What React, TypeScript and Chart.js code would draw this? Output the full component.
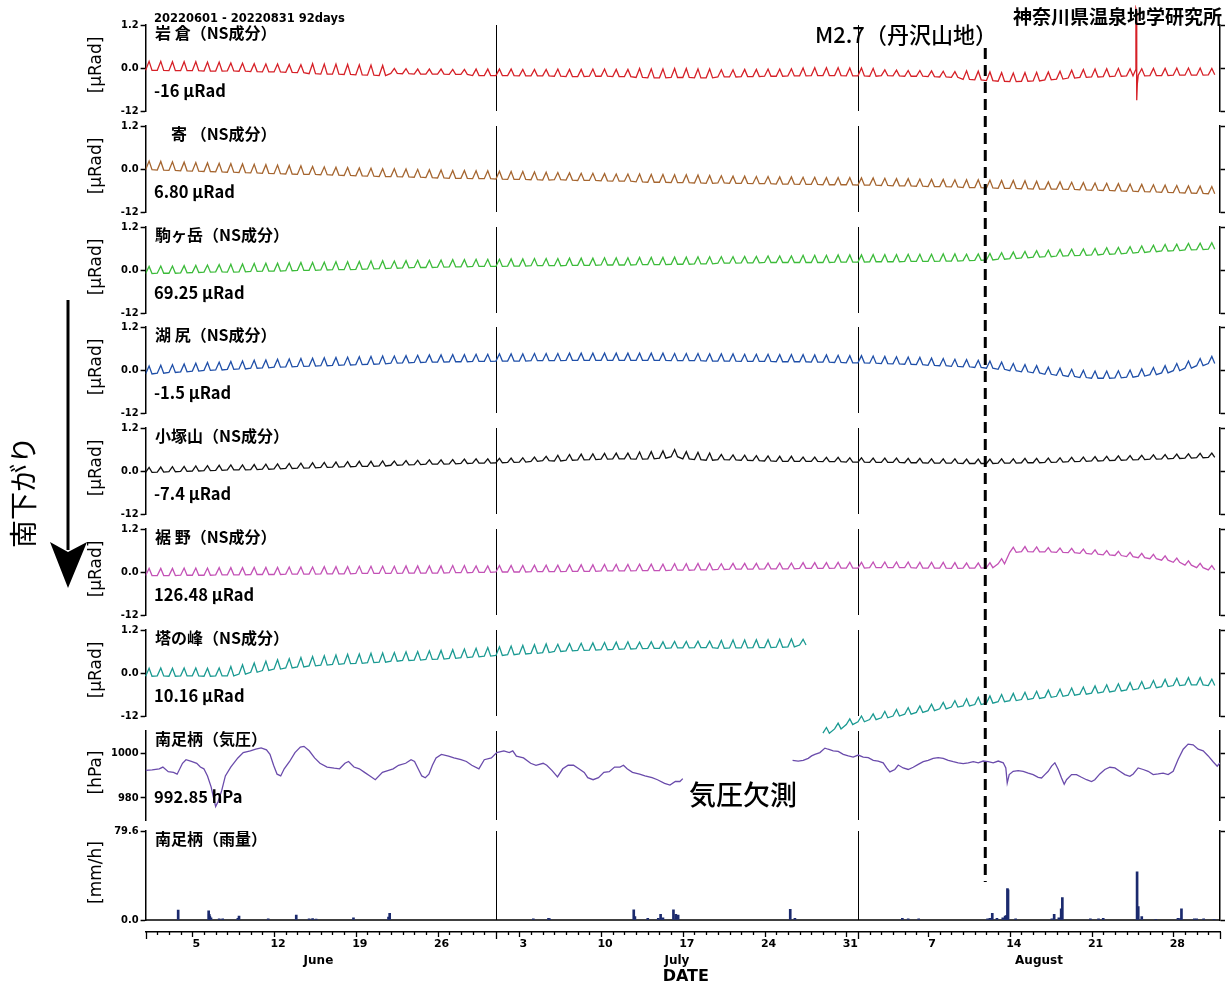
import React, { useEffect, useRef } from 'react';
import { Chart, registerables } from 'chart.js';

Chart.register(...registerables);

// ---------------- axis values ----------------
const DAY_MIN = 0;
const DAY_MAX = 92;
const X_TICK_DAYS = [4, 11, 18, 25, 32, 39, 46, 53, 60, 67, 74, 81, 88];
const X_TICK_LABELS = ['5', '12', '19', '26', '3', '10', '17', '24', '31', '7', '14', '21', '28'];
const MONTH_START_DAYS = [30, 61];
const MONTH_NAMES = ['June', 'July', 'August'];
const MONTH_LABEL_DAYS = [14.8, 45.5, 76.5];
const EQ_DAY = 71.9;

const TILT_TICKS = [-1.2, 0, 1.2];
const TILT_TICK_LABELS = ['-12', '0.0', '1.2'];
const P_TICKS = [980, 1000];
const P_TICK_LABELS = ['980', '1000'];
const R_TICKS = [0, 79.6];
const R_TICK_LABELS = ['0.0', '79.6'];

// ---------------- tilt series: daily level (μRad) and weekly tidal swing ----------------
const IWAKURA_LEVEL = [
  0.06, 0.06, 0.05, 0.05, 0.05, 0.04, 0.04,
  0.03, 0.02, 0.01, 0.0, 0.0, -0.01, -0.02,
  -0.02, -0.03, -0.03, -0.04, -0.05, -0.06, -0.07,
  -0.08, -0.09, -0.1, -0.1, -0.1, -0.11, -0.11,
  -0.12, -0.12, -0.12, -0.12, -0.13, -0.13, -0.13,
  -0.13, -0.14, -0.14, -0.13, -0.13, -0.14, -0.14,
  -0.14, -0.15, -0.15, -0.14, -0.14, -0.15, -0.15,
  -0.15, -0.15, -0.14, -0.14, -0.13, -0.13, -0.12,
  -0.11, -0.1, -0.1, -0.1, -0.11, -0.11, -0.12,
  -0.13, -0.14, -0.15, -0.15, -0.16, -0.17, -0.18,
  -0.2, -0.21, -0.23, -0.25, -0.26, -0.25, -0.24,
  -0.22, -0.2, -0.17, -0.15, -0.14, -0.13, -0.12,
  -0.12, -0.12, -0.11, -0.11, -0.1, -0.1, -0.1, -0.1,
];
const IWAKURA_AMP = [0.25, 0.22, 0.28, 0.14, 0.18, 0.2, 0.25, 0.2, 0.22, 0.16, 0.24, 0.22, 0.2, 0.18];
const IWAKURA_SPIKE_DAYS = [84.78, 84.8, 84.84, 84.87, 84.92, 85.0];
const IWAKURA_SPIKE_VALS = [-0.05, 1.65, 1.6, -0.9, -0.45, -0.2];

const YADORIKI_LEVEL = [
  0.1, 0.09, 0.08, 0.07, 0.06, 0.05, 0.04,
  0.03, 0.02, 0.01, 0.0, -0.01, -0.02, -0.03,
  -0.04, -0.05, -0.06, -0.07, -0.08, -0.09, -0.1,
  -0.1, -0.11, -0.12, -0.13, -0.14, -0.15, -0.15,
  -0.16, -0.16, -0.17, -0.18, -0.18, -0.19, -0.2,
  -0.2, -0.21, -0.22, -0.22, -0.23, -0.24, -0.24,
  -0.25, -0.26, -0.26, -0.27, -0.27, -0.28, -0.29,
  -0.29, -0.3, -0.3, -0.31, -0.31, -0.32, -0.32,
  -0.33, -0.33, -0.34, -0.34, -0.34, -0.35, -0.35,
  -0.36, -0.37, -0.37, -0.38, -0.39, -0.39, -0.4,
  -0.41, -0.41, -0.42, -0.43, -0.43, -0.44, -0.45,
  -0.46, -0.46, -0.47, -0.48, -0.49, -0.5, -0.51,
  -0.52, -0.53, -0.54, -0.55, -0.56, -0.57, -0.58, -0.59,
];
const YADORIKI_AMP = [0.24, 0.24, 0.22, 0.22, 0.22, 0.2, 0.22, 0.2, 0.2, 0.2, 0.22, 0.2, 0.2, 0.2];

const KOMA_LEVEL = [
  0.0, 0.01, 0.01, 0.02, 0.03, 0.04, 0.05,
  0.05, 0.06, 0.07, 0.08, 0.08, 0.09, 0.1,
  0.1, 0.11, 0.12, 0.12, 0.13, 0.14, 0.15,
  0.15, 0.16, 0.17, 0.17, 0.18, 0.19, 0.19,
  0.2, 0.2, 0.2, 0.21, 0.21, 0.22, 0.22,
  0.22, 0.23, 0.23, 0.23, 0.24, 0.24, 0.24,
  0.25, 0.25, 0.25, 0.26, 0.26, 0.27, 0.27,
  0.28, 0.28, 0.29, 0.29, 0.3, 0.3, 0.3,
  0.31, 0.31, 0.31, 0.32, 0.32, 0.32, 0.33,
  0.33, 0.33, 0.34, 0.34, 0.34, 0.35, 0.35,
  0.35, 0.36, 0.37, 0.39, 0.41, 0.43, 0.45,
  0.46, 0.48, 0.49, 0.5, 0.51, 0.53, 0.54,
  0.56, 0.58, 0.6, 0.62, 0.63, 0.65, 0.66, 0.67,
];
const KOMA_AMP = [0.2, 0.22, 0.22, 0.2, 0.2, 0.2, 0.2, 0.18, 0.2, 0.2, 0.18, 0.18, 0.18, 0.18];

const KOJIRI_LEVEL = [
  0.0, 0.02, 0.04, 0.06, 0.08, 0.1, 0.11,
  0.13, 0.14, 0.16, 0.17, 0.19, 0.2, 0.21,
  0.22, 0.23, 0.24, 0.25, 0.26, 0.27, 0.28,
  0.29, 0.3, 0.31, 0.32, 0.32, 0.33, 0.33,
  0.34, 0.34, 0.35, 0.35, 0.35, 0.36, 0.36,
  0.36, 0.37, 0.37, 0.37, 0.37, 0.37, 0.37,
  0.37, 0.37, 0.37, 0.36, 0.36, 0.36, 0.35,
  0.35, 0.35, 0.34, 0.34, 0.34, 0.33, 0.33,
  0.33, 0.32, 0.32, 0.31, 0.3, 0.3, 0.29,
  0.28, 0.27, 0.26, 0.25, 0.23, 0.22, 0.2,
  0.19, 0.17, 0.15, 0.12, 0.08, 0.05, 0.02,
  -0.02, -0.05, -0.08, -0.11, -0.13, -0.13, -0.12,
  -0.1, -0.07, -0.03, 0.02, 0.08, 0.15, 0.22, 0.28,
];
const KOJIRI_AMP = [0.22, 0.22, 0.22, 0.2, 0.2, 0.2, 0.2, 0.2, 0.2, 0.2, 0.2, 0.2, 0.2, 0.2];

const KOZUKA_LEVEL = [
  0.03, 0.04, 0.05, 0.06, 0.07, 0.08, 0.09,
  0.1, 0.1, 0.11, 0.12, 0.13, 0.14, 0.15,
  0.16, 0.17, 0.18, 0.19, 0.2, 0.2, 0.21,
  0.22, 0.23, 0.24, 0.25, 0.25, 0.26, 0.27,
  0.28, 0.28, 0.29, 0.3, 0.31, 0.33, 0.35,
  0.36, 0.38, 0.39, 0.4, 0.41, 0.42, 0.42,
  0.43, 0.44, 0.46, 0.5, 0.44, 0.42, 0.4,
  0.39, 0.38, 0.37, 0.36, 0.35, 0.34, 0.34,
  0.33, 0.33, 0.32, 0.32, 0.31, 0.31, 0.3,
  0.3, 0.3, 0.29, 0.29, 0.28, 0.28, 0.28,
  0.27, 0.27, 0.27, 0.28, 0.28, 0.29, 0.29,
  0.3, 0.31, 0.32, 0.33, 0.34, 0.35, 0.36,
  0.37, 0.38, 0.39, 0.4, 0.41, 0.42, 0.43, 0.44,
];
const KOZUKA_AMP = [0.14, 0.14, 0.14, 0.12, 0.12, 0.16, 0.2, 0.14, 0.12, 0.12, 0.12, 0.12, 0.12, 0.12];

const SUSONO_LEVEL = [
  0.0, 0.0, 0.0, 0.01, 0.01, 0.01, 0.02,
  0.02, 0.02, 0.03, 0.03, 0.03, 0.04, 0.04,
  0.04, 0.05, 0.05, 0.05, 0.06, 0.06, 0.06,
  0.06, 0.07, 0.07, 0.07, 0.07, 0.08, 0.08,
  0.08, 0.08, 0.09, 0.09, 0.09, 0.1, 0.1,
  0.1, 0.11, 0.11, 0.11, 0.12, 0.12, 0.12,
  0.13, 0.13, 0.13, 0.14, 0.14, 0.15, 0.15,
  0.15, 0.16, 0.16, 0.16, 0.17, 0.17, 0.17,
  0.18, 0.18, 0.18, 0.19, 0.19, 0.19, 0.2,
  0.2, 0.2, 0.2, 0.19, 0.19, 0.19, 0.18,
  0.18, 0.18, 0.19, 0.3, 0.62, 0.64, 0.63,
  0.62, 0.61, 0.6, 0.58, 0.56, 0.54, 0.52,
  0.49, 0.46, 0.43, 0.39, 0.33, 0.25, 0.18, 0.12,
];
const SUSONO_AMP = [0.2, 0.2, 0.2, 0.2, 0.18, 0.18, 0.18, 0.16, 0.16, 0.16, 0.14, 0.12, 0.12, 0.12];

const TONOMINE_LEVEL: (number | null)[] = [
  0.02, 0.03, 0.02, 0.03, 0.03, 0.02, 0.03,
  0.05, 0.1, 0.15, 0.2, 0.24, 0.27, 0.3,
  0.33, 0.35, 0.37, 0.39, 0.4, 0.42, 0.43,
  0.45, 0.47, 0.48, 0.5, 0.51, 0.53, 0.55,
  0.57, 0.59, 0.61, 0.63, 0.65, 0.67, 0.69,
  0.7, 0.72, 0.73, 0.74, 0.75, 0.76, 0.77,
  0.77, 0.78, 0.78, 0.79, 0.79, 0.8, 0.8,
  0.8, 0.81, 0.81, 0.82, 0.82, 0.83, 0.84,
  0.86, null, -1.6, -1.48, -1.36, -1.28, -1.22,
  -1.16, -1.11, -1.06, -1.01, -0.96, -0.91, -0.86,
  -0.82, -0.78, -0.74, -0.7, -0.67, -0.64, -0.61,
  -0.58, -0.55, -0.52, -0.49, -0.46, -0.43, -0.4,
  -0.37, -0.34, -0.31, -0.28, -0.25, -0.23, -0.23, -0.26,
];
const TONOMINE_AMP = [0.22, 0.26, 0.26, 0.24, 0.24, 0.2, 0.18, 0.22, 0.16, 0.18, 0.2, 0.2, 0.2, 0.18];

// ---------------- Minami-Ashigara pressure (hPa) ----------------
const P_DAY: number[] = [
  0.0, 0.56, 1.17, 1.48, 1.94, 2.39, 2.7, 3.16, 3.46, 3.92, 4.38, 4.69, 4.99, 5.3, 5.61, 5.82, 6.0, 6.22,
  6.52, 6.83, 7.29, 7.9, 8.36, 8.97, 9.43, 9.89, 10.35, 10.65, 10.96, 11.26, 11.57, 11.87, 12.33, 12.79,
  13.25, 13.56, 14.01, 14.47, 14.93, 15.54, 16.15, 16.61, 17.07, 17.38, 17.84, 18.3, 18.75, 19.21, 19.67,
  20.28, 20.74, 21.2, 21.66, 22.27, 22.73, 23.03, 23.34, 23.65, 23.95, 24.26, 24.56, 24.87, 25.33, 25.94,
  26.4, 27.01, 27.47, 27.93, 28.54, 29.0, 29.61, 30.07, 30.68, 31.14, 31.44, 31.75, 32.36, 32.97, 33.43,
  34.04, 34.35, 34.81, 35.27, 35.72, 36.18, 36.64, 37.1, 37.56, 37.86, 38.32, 38.78, 39.24, 39.7, 40.16,
  40.62, 40.92, 41.23, 41.69, 42.3, 42.76, 43.37, 43.83, 44.44, 44.9, 45.36, 45.75, 46.0,
  50.0,
  55.4, 55.88, 56.31, 56.74, 57.03, 57.31, 57.74, 58.17, 58.45, 58.88, 59.31, 59.74, 60.17, 60.59, 61.02,
  61.45, 61.88, 62.31, 62.73, 63.16, 63.45, 63.73, 64.16, 64.45, 64.87, 65.3, 65.73, 66.16, 66.59, 67.01,
  67.44, 67.87, 68.3, 68.73, 69.16, 69.58, 70.01, 70.44, 70.87, 71.3, 71.72, 72.15, 72.58, 73.01, 73.44,
  73.66, 73.78, 73.95, 74.29, 74.72, 75.15, 75.58, 76.0, 76.43, 76.72, 77.0, 77.29, 77.58, 77.86, 78.15,
  78.43, 78.66, 78.86, 79.29, 79.71, 80.14, 80.57, 81.0, 81.28, 81.71, 82.14, 82.57, 83.0, 83.42, 83.85,
  84.28, 84.57, 84.99, 85.42, 85.85, 86.28, 86.71, 87.13, 87.56, 87.99, 88.42, 88.85, 89.27, 89.7, 90.13,
  90.56, 90.99, 91.41, 91.76, 91.99,
];
const P_HPA: (number | null)[] = [
  992.3, 992.5, 993.0, 993.8, 991.7, 991.4, 990.6, 995.5, 997.1, 996.3, 995.5, 993.8, 993.0, 989.8, 984.9, 980.0, 976.0, 978.4,
  983.3, 989.8, 993.8, 997.9, 1000.3, 1001.1, 1001.9, 1002.4, 1001.5, 999.5, 994.6, 990.6, 989.8, 993.0, 996.3, 1000.3,
  1002.8, 1003.1, 1001.1, 997.9, 995.5, 993.8, 993.3, 993.0, 995.5, 996.3, 993.8, 993.0, 991.4, 989.8, 988.1,
  991.4, 992.2, 993.0, 994.6, 995.5, 997.1, 996.3, 993.0, 989.8, 989.0, 990.6, 994.6, 997.9, 999.5, 998.7,
  997.9, 997.1, 996.3, 994.6, 993.0, 997.1, 997.9, 1000.3, 1001.1, 1000.3, 1001.1, 998.7, 997.9, 995.5, 994.6,
  995.5, 994.6, 992.2, 989.4, 993.0, 994.6, 994.6, 993.0, 991.4, 989.0, 988.1, 989.0, 991.4, 991.7, 993.8,
  993.8, 994.6, 993.0, 991.4, 990.6, 989.8, 989.0, 988.1, 986.5, 985.7, 987.3, 987.3, 988.6,
  null,
  996.8, 996.5, 996.8, 997.7, 998.8, 999.5, 1000.3, 1002.3, 1001.8, 1001.1, 1000.8, 999.5, 998.8, 998.3, 999.2,
  998.3, 998.0, 996.8, 996.5, 995.7, 993.4, 991.6, 992.7, 994.7, 993.4, 992.7, 993.7, 995.0, 996.2, 996.8,
  997.7, 998.0, 997.7, 996.8, 996.2, 995.7, 995.3, 995.7, 996.2, 995.7, 996.5, 996.2, 995.7, 996.5, 995.7,
  993.4, 986.6, 990.4, 991.9, 992.2, 991.9, 991.1, 990.4, 989.2, 988.9, 990.4, 991.9, 994.2, 995.7, 992.7,
  988.9, 986.1, 988.1, 990.4, 990.4, 989.2, 988.1, 987.3, 988.1, 990.7, 992.7, 993.7, 993.4, 991.9, 990.4,
  989.6, 990.7, 993.4, 992.7, 991.9, 990.4, 990.7, 991.1, 990.4, 991.9, 997.3, 1001.8, 1004.1, 1003.8, 1001.8,
  1001.1, 998.8, 996.2, 994.2, 995.7,
];

// ---------------- Minami-Ashigara rainfall (mm/h) ----------------
const RAIN_DAY = [
  2.79, 5.4, 5.45, 5.5, 5.6, 6.3, 6.6, 7.9, 8.0, 10.5, 12.9, 14.0, 14.3, 14.6, 17.8, 20.8, 20.9,
  33.2, 34.5, 34.6, 41.8, 41.9, 43.0, 43.9, 44.1, 44.3, 45.2, 45.4, 45.6, 55.2, 55.6,
  64.8, 65.3, 66.2, 72.1, 72.3, 72.5, 72.9, 73.4, 73.6, 73.7, 73.8, 73.85, 74.5, 77.6, 77.8, 78.2,
  78.4, 78.5, 80.9, 81.6, 82.0, 84.9, 85.0, 85.3, 86.5, 88.4, 88.6, 88.7, 89.8, 90.0, 90.6, 91.5,
];
const RAIN_MM = [
  8.9, 8.3, 5, 3.5, 2, 1, 1, 1.5, 3.6, 1, 4.5, 1, 1.2, 0.8, 2, 2.5, 6,
  1, 1.5, 1, 9, 3, 1.5, 1.5, 5, 2, 9, 5, 4.5, 9.5, 1.5,
  1.5, 1, 1, 1, 1.5, 6, 1.5, 2, 3.5, 4, 28, 27, 1, 1, 5, 2,
  10, 20, 1, 1, 1.5, 43, 12, 3, 0.5, 1.5, 1.3, 10, 1, 1, 1, 0.5,
];

// ---------------- layout ----------------
const W = 1229;
const H = 987;
const PLOT_LEFT = 145.6;
const PLOT_RIGHT = 1220;
const PANEL_TOP0 = 25;
const PANEL_STEP = 100.8;
const PAD = 20;
const TICK_FONT = "'DejaVu Sans Condensed', 'DejaVu Sans', sans-serif";
const JP_FONT = "'Noto Sans CJK JP', 'Noto Sans', sans-serif";

type Pt = { x: number; y: number | null };

function tiltPoints(level: (number | null)[], amp: number[]): Pt[] {
  const pts: Pt[] = [];
  level.forEach((v, d) => {
    if (v === null) {
      pts.push({ x: d + 0.5, y: null });
      return;
    }
    const a = amp[Math.floor(d / 7)];
    pts.push({ x: d, y: v - a / 2 }, { x: d + 0.3, y: v + a / 2 }, { x: d + 0.55, y: v - a / 2 });
  });
  return pts;
}

function withSpike(base: Pt[], days: number[], vals: number[]): Pt[] {
  const lo = days[0] - 0.03;
  const hi = days[days.length - 1] + 0.03;
  const kept = base.filter((p) => p.x < lo || p.x > hi);
  const add = days.map((d, i) => ({ x: d, y: vals[i] }));
  return [...kept, ...add].sort((a, b) => a.x - b.x);
}

type Panel = {
  kind: 'tilt' | 'pressure' | 'rain';
  title: string;
  value: string;
  unit: string;
  color: string;
  height: number;
  points: Pt[];
  noClip?: boolean;
};

const PANELS: Panel[] = [
  { kind: 'tilt', title: '岩 倉（NS成分）', value: '-16 μRad', unit: '[μRad]', color: '#d62027', height: 86,
    points: withSpike(tiltPoints(IWAKURA_LEVEL, IWAKURA_AMP), IWAKURA_SPIKE_DAYS, IWAKURA_SPIKE_VALS), noClip: true },
  { kind: 'tilt', title: '　寄 （NS成分）', value: '6.80 μRad', unit: '[μRad]', color: '#a5652f', height: 86,
    points: tiltPoints(YADORIKI_LEVEL, YADORIKI_AMP) },
  { kind: 'tilt', title: '駒ヶ岳（NS成分）', value: '69.25 μRad', unit: '[μRad]', color: '#3cbb3a', height: 86,
    points: tiltPoints(KOMA_LEVEL, KOMA_AMP) },
  { kind: 'tilt', title: '湖 尻（NS成分）', value: '-1.5 μRad', unit: '[μRad]', color: '#1f4fa8', height: 86,
    points: tiltPoints(KOJIRI_LEVEL, KOJIRI_AMP) },
  { kind: 'tilt', title: '小塚山（NS成分）', value: '-7.4 μRad', unit: '[μRad]', color: '#111111', height: 86,
    points: tiltPoints(KOZUKA_LEVEL, KOZUKA_AMP) },
  { kind: 'tilt', title: '裾 野（NS成分）', value: '126.48 μRad', unit: '[μRad]', color: '#c352b6', height: 86,
    points: tiltPoints(SUSONO_LEVEL, SUSONO_AMP) },
  { kind: 'tilt', title: '塔の峰（NS成分）', value: '10.16 μRad', unit: '[μRad]', color: '#1b9a92', height: 86,
    points: tiltPoints(TONOMINE_LEVEL, TONOMINE_AMP), noClip: true },
  { kind: 'pressure', title: '南足柄（気圧）', value: '992.85 hPa', unit: '[hPa]', color: '#6a4bab', height: 89,
    points: P_DAY.map((d, i) => ({ x: d, y: P_HPA[i] })) },
  { kind: 'rain', title: '南足柄（雨量）', value: '', unit: '[mm/h]', color: '#1b2a6e', height: 89,
    points: RAIN_DAY.map((d, i) => ({ x: d, y: RAIN_MM[i] })) },
];

function panelTop(i: number) {
  return PANEL_TOP0 + PANEL_STEP * i;
}

function panelPlugin(p: Panel) {
  return {
    id: 'panelDeco',
    beforeDatasetsDraw(chart: any) {
      const { ctx, chartArea, scales } = chart;
      ctx.save();
      ctx.strokeStyle = '#000';
      ctx.lineWidth = 1;
      MONTH_START_DAYS.forEach((d) => {
        const x = Math.round(scales.x.getPixelForValue(d)) + 0.5;
        ctx.beginPath();
        ctx.moveTo(x, chartArea.top);
        ctx.lineTo(x, chartArea.bottom);
        ctx.stroke();
      });
      if (p.kind === 'rain') {
        ctx.lineWidth = 1.5;
        ctx.beginPath();
        ctx.moveTo(chartArea.left, chartArea.bottom);
        ctx.lineTo(chartArea.right, chartArea.bottom);
        ctx.stroke();
      }
      ctx.restore();
    },
    afterDraw(chart: any) {
      const { ctx, chartArea } = chart;
      ctx.save();
      ctx.fillStyle = '#000';
      ctx.textBaseline = 'middle';
      ctx.textAlign = 'left';
      ctx.font = `bold 16px ${JP_FONT}`;
      ctx.fillText(p.title, 155, chartArea.top + 8);
      if (p.value) {
        ctx.font = `bold 16.5px ${JP_FONT}`;
        ctx.fillText(p.value, 154, chartArea.top + 66);
      }
      ctx.translate(97, chartArea.top + p.height / 2 - 3);
      ctx.rotate(-Math.PI / 2);
      ctx.textAlign = 'center';
      ctx.font = "17px 'DejaVu Sans', sans-serif";
      ctx.fillText(p.unit, 0, 0);
      ctx.restore();
    },
  };
}

function panelConfig(p: Panel): any {
  const ticks = p.kind === 'tilt' ? TILT_TICKS : p.kind === 'pressure' ? P_TICKS : R_TICKS;
  const labels = p.kind === 'tilt' ? TILT_TICK_LABELS : p.kind === 'pressure' ? P_TICK_LABELS : R_TICK_LABELS;
  const range = p.kind === 'tilt' ? [-1.2, 1.2] : p.kind === 'pressure' ? [970, 1010] : [0, 79.6];
  const yCommon = {
    min: range[0],
    max: range[1],
    afterBuildTicks: (s: any) => {
      s.ticks = ticks.map((v) => ({ value: v }));
    },
    grid: { drawOnChartArea: false, drawTicks: true, tickLength: 5, tickColor: '#000', tickWidth: 1.5, color: '#000' },
    border: { display: true, color: '#000', width: 1.5 },
  };
  const dataset: any =
    p.kind === 'rain'
      ? { type: 'bar', data: p.points, backgroundColor: p.color, borderWidth: 0, barThickness: 2, grouped: false }
      : { type: 'line', data: p.points, borderColor: p.color, borderWidth: 1.3, pointRadius: 0, tension: 0, spanGaps: false };
  if (p.noClip) dataset.clip = false;
  return {
    type: p.kind === 'rain' ? 'bar' : 'line',
    data: { datasets: [dataset] },
    options: {
      responsive: false,
      animation: false,
      devicePixelRatio: 1,
      events: [],
      layout: { padding: { top: PAD, bottom: PAD, left: 0, right: 0 } },
      plugins: { legend: { display: false }, tooltip: { enabled: false }, title: { display: false } },
      scales: {
        x: { type: 'linear', min: DAY_MIN, max: DAY_MAX, display: false, offset: false, grid: { offset: false } },
        y: {
          ...yCommon,
          position: 'left',
          afterFit: (s: any) => {
            s.width = PLOT_LEFT;
          },
          ticks: {
            callback: (_v: any, i: number) => labels[i],
            font: { family: TICK_FONT, size: 11, weight: 'bold' },
            color: '#000',
            padding: 2,
          },
        },
        yR: {
          ...yCommon,
          position: 'right',
          afterFit: (s: any) => {
            s.width = W - PLOT_RIGHT;
          },
          ticks: { display: false },
        },
      },
    },
    plugins: [panelPlugin(p)],
  };
}

const xAxisPlugin = {
  id: 'xAxisDeco',
  afterDraw(chart: any) {
    const { ctx, chartArea, scales } = chart;
    const x = scales.x;
    const y0 = chartArea.bottom;
    ctx.save();
    ctx.strokeStyle = '#000';
    ctx.lineWidth = 1.3;
    for (let d = DAY_MIN; d <= DAY_MAX; d++) {
      const len = d === 0 || d === DAY_MAX || MONTH_START_DAYS.includes(d) ? 7 : X_TICK_DAYS.includes(d) ? 5 : 3;
      const px = Math.round(x.getPixelForValue(d)) + 0.5;
      ctx.beginPath();
      ctx.moveTo(px, y0);
      ctx.lineTo(px, y0 + len);
      ctx.stroke();
    }
    ctx.fillStyle = '#000';
    ctx.textAlign = 'center';
    ctx.textBaseline = 'middle';
    ctx.font = "bold 12px 'DejaVu Sans', sans-serif";
    MONTH_NAMES.forEach((m, i) => ctx.fillText(m, x.getPixelForValue(MONTH_LABEL_DAYS[i]), y0 + 29));
    ctx.font = "bold 16px 'DejaVu Sans', sans-serif";
    ctx.fillText('DATE', (chartArea.left + chartArea.right) / 2 + 3, y0 + 45);
    ctx.restore();
  },
};

function xAxisConfig(): any {
  return {
    type: 'line',
    data: { datasets: [{ data: [] as Pt[] }] },
    options: {
      responsive: false,
      animation: false,
      devicePixelRatio: 1,
      events: [],
      layout: { padding: { top: 5, bottom: 0, left: PLOT_LEFT, right: W - PLOT_RIGHT } },
      plugins: { legend: { display: false }, tooltip: { enabled: false } },
      scales: {
        x: {
          type: 'linear',
          min: DAY_MIN,
          max: DAY_MAX,
          position: 'bottom',
          afterBuildTicks: (s: any) => {
            s.ticks = X_TICK_DAYS.map((v) => ({ value: v }));
          },
          afterFit: (s: any) => {
            s.height = 55;
          },
          ticks: {
            callback: (_v: any, i: number) => X_TICK_LABELS[i],
            autoSkip: false,
            maxRotation: 0,
            labelOffset: 4,
            font: { family: "'DejaVu Sans', sans-serif", size: 11, weight: 'bold' },
            color: '#000',
            padding: 6,
          },
          grid: { display: false, drawTicks: false },
          border: { display: true, color: '#000', width: 1.5 },
        },
        y: { display: false, min: 0, max: 1 },
      },
    },
    plugins: [xAxisPlugin],
  };
}

function drawOverlay(cv: HTMLCanvasElement, xScale: any) {
  const ctx = cv.getContext('2d');
  if (!ctx) return;
  ctx.clearRect(0, 0, W, H);
  ctx.fillStyle = '#000';
  ctx.strokeStyle = '#000';

  // earthquake marker
  const ex = xScale.getPixelForValue(EQ_DAY);
  ctx.save();
  ctx.lineWidth = 3;
  ctx.setLineDash([11, 6]);
  ctx.beginPath();
  ctx.moveTo(ex, 48);
  ctx.lineTo(ex, 882);
  ctx.stroke();
  ctx.restore();

  // headline texts
  ctx.textBaseline = 'middle';
  ctx.textAlign = 'left';
  ctx.font = "bold 11.5px 'DejaVu Sans', sans-serif";
  ctx.fillText('20220601 - 20220831 92days', 154, 19);
  ctx.textAlign = 'right';
  ctx.font = `bold 19px ${JP_FONT}`;
  ctx.fillText('神奈川県温泉地学研究所', 1222, 17);
  ctx.textAlign = 'left';
  ctx.font = `500 22px ${JP_FONT}`;
  ctx.fillText('M2.7（丹沢山地）', 815, 35);
  ctx.font = `500 27px ${JP_FONT}`;
  ctx.fillText('気圧欠測', 689, 795);

  // southward-down arrow
  ctx.lineWidth = 3;
  ctx.beginPath();
  ctx.moveTo(68, 300);
  ctx.lineTo(68, 550);
  ctx.stroke();
  ctx.beginPath();
  ctx.moveTo(50, 542);
  ctx.lineTo(68, 552);
  ctx.lineTo(87, 542);
  ctx.lineTo(68, 588);
  ctx.closePath();
  ctx.fill();

  ctx.save();
  ctx.translate(23, 492);
  ctx.rotate(-Math.PI / 2);
  ctx.textAlign = 'center';
  ctx.font = `28px ${JP_FONT}`;
  ctx.fillText('南下がり', 0, 0);
  ctx.restore();
}

export default function App() {
  const panelRefs = useRef<(HTMLCanvasElement | null)[]>([]);
  const xRef = useRef<HTMLCanvasElement | null>(null);
  const overlayRef = useRef<HTMLCanvasElement | null>(null);

  useEffect(() => {
    document.body.style.overflow = 'hidden';
    const charts: Chart[] = [];
    PANELS.forEach((p, i) => {
      const cv = panelRefs.current[i];
      if (cv) charts.push(new Chart(cv, panelConfig(p)));
    });
    if (xRef.current) charts.push(new Chart(xRef.current, xAxisConfig()));
    if (overlayRef.current && charts.length) drawOverlay(overlayRef.current, (charts[0] as any).scales.x);
    return () => {
      charts.forEach((c) => c.destroy());
    };
  }, []);

  return (
    <div style={{ position: 'absolute', left: 0, top: 0, width: W, height: H, background: '#fff', overflow: 'hidden' }}>
      {PANELS.map((p, i) => (
        <canvas
          key={i}
          ref={(el) => {
            panelRefs.current[i] = el;
          }}
          width={W}
          height={p.height + PAD * 2}
          style={{ position: 'absolute', left: 0, top: panelTop(i) - PAD, width: W, height: p.height + PAD * 2 }}
        />
      ))}
      <canvas ref={xRef} width={W} height={62} style={{ position: 'absolute', left: 0, top: 925, width: W, height: 62 }} />
      <canvas ref={overlayRef} width={W} height={H} style={{ position: 'absolute', left: 0, top: 0, width: W, height: H }} />
    </div>
  );
}
